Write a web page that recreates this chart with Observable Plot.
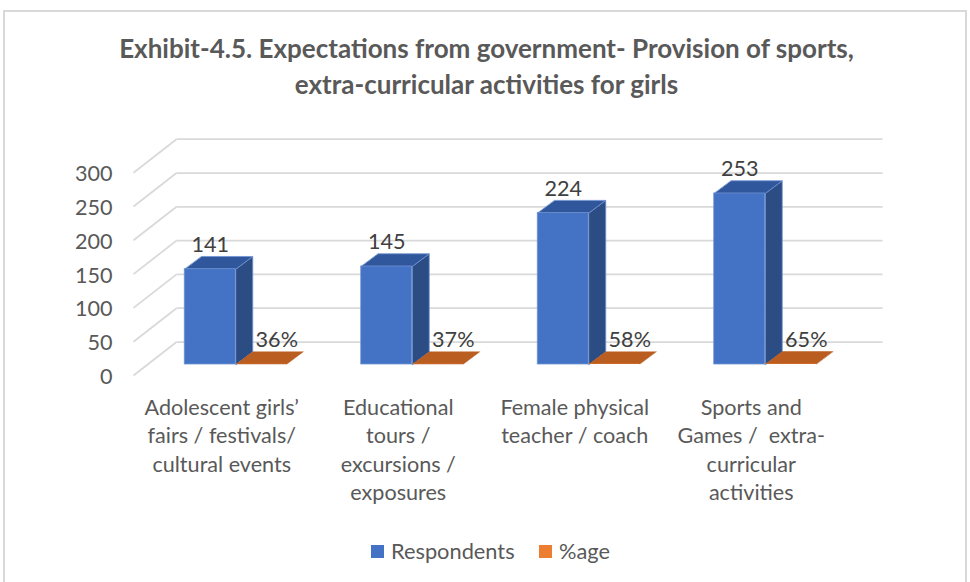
<!DOCTYPE html>
<html><head><meta charset="utf-8">
<script src="https://cdn.jsdelivr.net/npm/d3@7"></script>
<script src="https://cdn.jsdelivr.net/npm/@observablehq/plot@0.6"></script>
<style>
body{margin:0;background:#fff;}
#wrap{position:relative;width:970px;height:582px;overflow:hidden;font-family:Lato,"Open Sans",sans-serif;}
#border{position:absolute;left:3px;top:10px;width:964px;height:620px;border:2px solid #d9d9d9;box-sizing:border-box;}
#chart{position:absolute;left:0;top:0;}
.leg{position:absolute;font-size:21.8px;color:#595959;line-height:1;white-space:nowrap;}
.sw{position:absolute;width:13px;height:13px;}
</style></head><body>
<div id="wrap"><div id="border"></div><div id="chart"></div><div id="legend"></div></div>
<script>
// ---- data ----
const categories = [
  "Adolescent girls’\nfairs / festivals/\ncultural events",
  "Educational\ntours /\nexcursions /\nexposures",
  "Female physical\nteacher / coach",
  "Sports and\nGames /  extra-\ncurricular\nactivities"
];
const respondents = [141, 145, 224, 253];
const shares = [0.36, 0.37, 0.58, 0.65];
const yTicks = [0, 50, 100, 150, 200, 250, 300];
const seriesNames = ["Respondents", "%age"];
const titleLines = [
  "Exhibit-4.5. Expectations from government- Provision of sports,",
  "extra-curricular activities for girls"
];

// ---- layout / style ----
const W = 970, H = 582, X0 = 133, X1 = 839, Y0 = 375, YT = 172.2;
const kx = (X1 - X0) / categories.length, ky = (Y0 - YT) / 300;
const px = p => p / kx, py = p => p / ky;
const wall = {x: px(43), y: py(33.5)};
const plane = {x: px(14), y: py(11)};
const depth = {x: px(17), y: py(12.7)};
const barW = px(51), gap = (1 - 2 * barW) / 2;
const FONT = "Lato, 'Open Sans', sans-serif";
const FS = 21.6;
const colors = {
  blue: {front: "#4472C4", side: "#2C4C84", top: "#30569B", edge: "#6F93D3"},
  orange: {front: "#ED7D31", side: "#A85420", top: "#B95D21"}
};

const bars = [];
categories.forEach((c, i) => {
  const xb = i + gap + plane.x;
  bars.push({s: 0, i, x1: xb, x2: xb + barW, v: respondents[i], label: String(respondents[i])});
  bars.push({s: 1, i, x1: xb + barW, x2: xb + 2 * barW, v: shares[i], label: Math.round(shares[i] * 100) + "%"});
});
function sidePoly(b) {
  const y0 = plane.y, y1 = b.v + plane.y;
  return [[b.x2, y0], [b.x2, y1], [b.x2 + depth.x, y1 + depth.y], [b.x2 + depth.x, y0 + depth.y]];
}
function topPoly(b) {
  const y1 = b.v + plane.y;
  return [[b.x1, y1], [b.x2, y1], [b.x2 + depth.x, y1 + depth.y], [b.x1 + depth.x, y1 + depth.y]];
}
const pts = (list, f) => list.flatMap((b, j) => f(b).map(([x, y]) => ({x, y, id: j})));
const blue = bars.filter(b => b.s === 0), orange = bars.filter(b => b.s === 1);

const catLines = categories.flatMap((c, i) => c.split("\n").map((t, k) => ({i, k, t})));

const poly = (data, fill, stroke) => Plot.line(data, {x: "x", y: "y", z: "id", fill, stroke: stroke || "none", strokeWidth: 0.8, curve: "linear-closed"});

const chart = Plot.plot({
  width: W, height: H,
  marginLeft: X0, marginRight: W - X1, marginTop: YT, marginBottom: H - Y0,
  x: {type: "linear", domain: [0, categories.length], axis: null},
  y: {domain: [0, 300], axis: null},
  style: {fontFamily: FONT, background: "transparent", overflow: "visible"},
  marks: [
    // wall gridlines
    Plot.link(yTicks, {x1: wall.x, x2: categories.length + wall.x, y1: d => d + wall.y, y2: d => d + wall.y, stroke: "#d9d9d9", strokeWidth: 1.75}),
    Plot.link(yTicks, {x1: 0, y1: d => d, x2: wall.x, y2: d => d + wall.y, stroke: "#d9d9d9", strokeWidth: 1.75}),
    // y tick labels
    Plot.text(yTicks, {x: 0, y: d => d, text: d => String(d), textAnchor: "end", lineAnchor: "bottom", dx: -21, dy: 8.5, fontSize: FS, fill: "#595959"}),
    // blue bars
    poly(pts(blue, sidePoly), colors.blue.side, colors.blue.edge),
    poly(pts(blue, topPoly), colors.blue.top, colors.blue.edge),
    Plot.rect(blue, {x1: "x1", x2: "x2", y1: () => plane.y, y2: d => d.v + plane.y, fill: colors.blue.front, stroke: colors.blue.edge, strokeWidth: 0.8}),
    // orange bars
    poly(pts(orange, sidePoly), colors.orange.side),
    poly(pts(orange, topPoly), colors.orange.top),
    Plot.rect(orange, {x1: "x1", x2: "x2", y1: () => plane.y, y2: d => d.v + plane.y, fill: colors.orange.front}),
    // data labels
    Plot.text(blue, {x: d => (d.x1 + d.x2) / 2, y: d => d.v + plane.y, text: "label", lineAnchor: "bottom", dy: -17, fontSize: FS, fill: "#404040"}),
    Plot.text(orange, {x: d => (d.x1 + d.x2) / 2, y: d => d.v + plane.y, text: "label", lineAnchor: "bottom", dx: 15.5, dy: -17, fontSize: FS, fill: "#404040"}),
    // category labels
    ...[0, 1, 2, 3].map(k => Plot.text(catLines.filter(d => d.k === k), {x: d => d.i + 0.5, y: () => 0, text: "t", lineAnchor: "bottom", dy: 39.3 + 28.4 * k, fontSize: FS, fill: "#595959"})),
    // title
    ...titleLines.map((t, k) => Plot.text([t], {frameAnchor: "top", text: d => d, lineAnchor: "bottom", dy: (k ? 93.2 : 57.7) - YT, fontSize: 26, fontWeight: "bold", fill: "#595959"}))
  ]
});
document.getElementById("chart").appendChild(chart);

// legend
const leg = document.getElementById("legend");
const legPos = [{sw: 371, tx: 391}, {sw: 539, tx: 559}];
const legCol = [colors.blue.front, colors.orange.front];
seriesNames.forEach((n, i) => {
  const s = document.createElement("div"); s.className = "sw";
  s.style.left = legPos[i].sw + "px"; s.style.top = "545px"; s.style.background = legCol[i];
  leg.appendChild(s);
  const t = document.createElement("span"); t.className = "leg"; t.textContent = n;
  t.style.left = legPos[i].tx + "px"; t.style.top = (559 - 0.887 * 21.8) + "px";
  leg.appendChild(t);
});
</script>
</body></html>
